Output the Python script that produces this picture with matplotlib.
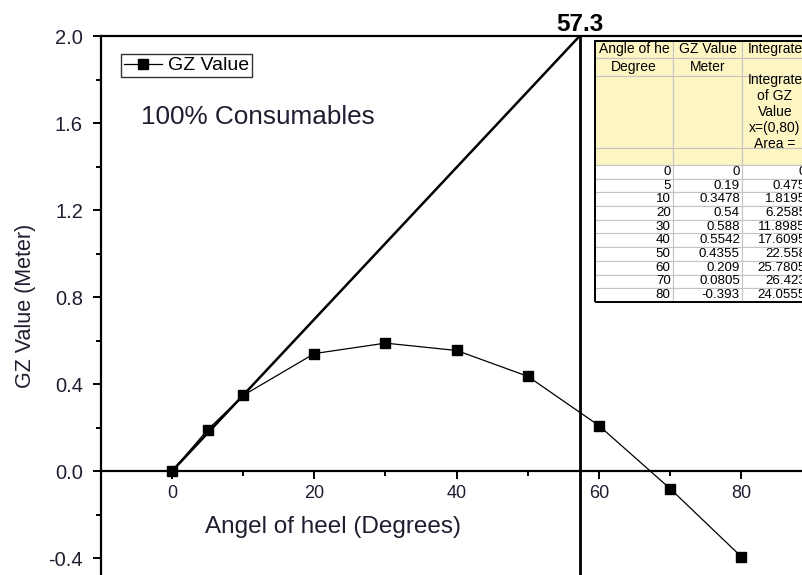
import matplotlib.pyplot as plt
from matplotlib.ticker import MultipleLocator, FixedLocator
from matplotlib.patches import Rectangle

# Datos
angulos = [0, 5, 10, 20, 30, 40, 50, 60, 70, 80]
gz = [0, 0.19, 0.3478, 0.54, 0.588, 0.5542, 0.4355, 0.209, -0.0805, -0.393]
tangente_x = [0, 57.3]
tangente_y = [0, 2.0]
angulo_corte = 57.3

# Texto de la tabla (como aparece en la imagen)
col_angulo = ["0", "5", "10", "20", "30", "40", "50", "60", "70", "80"]
col_gz = ["0", "0.19", "0.3478", "0.54", "0.588", "0.5542", "0.4355", "0.209", "0.0805", "-0.393"]
col_area = ["0", "0.475", "1.8195", "6.2585", "11.8985", "17.6095", "22.558", "25.7805", "26.423", "24.0555"]
encabezados = [
    ["Angle of he", "GZ Value", "Integrate"],
    ["Degree", "Meter", ""],
    ["", "", "Integrate\nof GZ\nValue\nx=(0,80)\nArea ="],
    ["", "", ""],
]

plt.rcParams['font.family'] = ['Liberation Sans', 'DejaVu Sans']
tinta = '#1e1e30'

fig = plt.figure(figsize=(8.03, 5.75), dpi=100)
ax = fig.add_axes([101 / 803, 0, 1 - 101 / 803, 1 - 36 / 575])

ax.plot(angulos, gz, color='black', lw=0.9, marker='s', ms=7.5, label='GZ Value', zorder=3)
ax.plot(tangente_x, tangente_y, color='black', lw=1.8, zorder=2)
ax.axvline(angulo_corte, color='black', lw=2.0, zorder=2)
ax.text(angulo_corte, 2.0, f"{angulo_corte}", ha='center', va='bottom', fontsize=17.5,
        fontweight='bold', clip_on=False)

ax.set_xlim(-10, 88.7)
ax.set_ylim(-0.478, 2.0)

ax.spines['right'].set_visible(False)
ax.spines['bottom'].set_position(('data', 0))
for s in ['left', 'top', 'bottom']:
    ax.spines[s].set_linewidth(1.6)

ax.xaxis.set_major_locator(FixedLocator([0, 20, 40, 60, 80]))
ax.xaxis.set_minor_locator(FixedLocator([10, 30, 50, 70]))
ax.yaxis.set_major_locator(MultipleLocator(0.4))
ax.yaxis.set_minor_locator(MultipleLocator(0.2))
ax.yaxis.set_major_formatter(lambda v, p: f"{v:.1f}".replace("-0.0", "0.0"))
ax.tick_params(which='major', length=6, width=1.4, colors='black', labelcolor=tinta)
ax.tick_params(which='minor', length=3.5, width=1.4, color='black')
ax.tick_params(axis='y', labelsize=14.5, pad=7)
ax.tick_params(axis='x', labelsize=13, pad=4)

ax.set_ylabel('GZ Value (Meter)', fontsize=15.5, color=tinta)
ax.yaxis.set_label_coords(-0.093, 0.5)
ax.set_xlabel('Angel of heel (Degrees)', fontsize=17.5, color=tinta)
ax.xaxis.set_label_coords(0.33, 0.089)
ax.xaxis.label.set_va('center')

ax.legend(loc='upper left', bbox_to_anchor=(0.028, 0.967), fontsize=14, frameon=True,
          fancybox=False, edgecolor='black', handlelength=2.0, handletextpad=0.3,
          borderpad=0.15, borderaxespad=0)
ax.get_legend().get_frame().set_linewidth(1.0)
ax.text(0.057, 0.85, '100% Consumables', transform=ax.transAxes, fontsize=18.8,
        color=tinta, va='center')

# Tabla
tab = fig.add_axes([595 / 803, (575 - 302) / 575, 213 / 803, 261 / 575])
tab.axis('off')
filas = encabezados + [[a, g, c] for a, g, c in zip(col_angulo, col_gz, col_area)]
t = tab.table(cellText=filas, colWidths=[78, 69, 66], bbox=[0, 0, 1, 1])
t.auto_set_font_size(False)
t.set_fontsize(10)
alturas = [17, 18, 72, 17] + [13.7] * 10
for (r, c), cell in t.get_celld().items():
    cell.set_height(alturas[r])
    cell.set_edgecolor('#c4c4c4')
    cell.set_linewidth(0.8)
    cell.PAD = 0.03
    if r < 4:
        cell.set_facecolor('#fdf5c2')
        cell.get_text().set_ha('center')
        cell._loc = 'center'
    else:
        cell.set_facecolor('white')
        cell._loc = 'right'
        cell.get_text().set_ha('right')
        cell.get_text().set_fontsize(9.6)
tab.add_patch(Rectangle((0, 0), 1.2, 1, transform=tab.transAxes, fill=False,
                        edgecolor='black', lw=1.4, clip_on=False, zorder=5))

fig.savefig('out.png', dpi=100)
